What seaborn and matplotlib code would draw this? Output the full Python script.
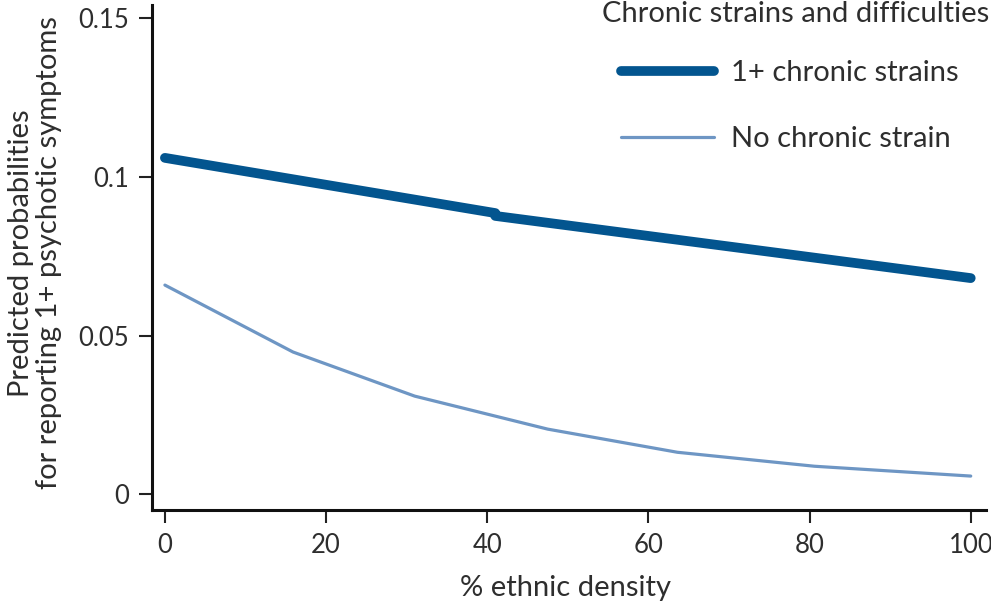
import pandas as pd
import matplotlib.pyplot as plt
import seaborn as sns

# values
strain_x = [0, 41, 41, 100]
strain_y = [0.1060, 0.0886, 0.0877, 0.0681]
none_x = [0, 15.9, 31, 47.5, 63.6, 80.6, 100]
none_y = [0.0659, 0.0448, 0.0309, 0.0205, 0.0132, 0.0088, 0.0057]
labels = ['1+ chronic strains', 'No chronic strain']
colors = ['#03558f', '#6e96c4']

df_strain = pd.DataFrame({'density': strain_x, 'prob': strain_y})
df_none = pd.DataFrame({'density': none_x, 'prob': none_y})

sns.set_style('ticks')
plt.rcParams['font.family'] = ['Lato', 'DejaVu Sans']
txt = '#2e2e2e'

fig = plt.figure(figsize=(9.91, 6.05), dpi=100)
ax = fig.add_axes([0.1534, 0.1570, 0.8416, 0.8348])

sns.lineplot(x='density', y='prob', data=df_strain, ax=ax, estimator=None, sort=False,
             color=colors[0], linewidth=7, solid_capstyle='round', label=labels[0])
sns.lineplot(x='density', y='prob', data=df_none, ax=ax, estimator=None, sort=False,
             color=colors[1], linewidth=2.3, solid_capstyle='round', label=labels[1])

ax.set_xlim(-1.6, 101.9)
ax.set_ylim(-0.005, 0.1542)
ax.set_xticks([0, 20, 40, 60, 80, 100])
ax.set_yticks([0, 0.05, 0.1, 0.15])
ax.set_yticklabels(['0', '0.05', '0.1', '0.15'])
ax.tick_params(axis='both', direction='out', length=9.5, width=1.5, colors='#222222',
               labelsize=18.5, labelcolor=txt, pad=7)
for s in ['top', 'right']:
    ax.spines[s].set_visible(False)
for s in ['left', 'bottom']:
    ax.spines[s].set_linewidth(2.2)
    ax.spines[s].set_color('#111111')

ax.set_xlabel('')
ax.set_ylabel('')
fig.text(565 / 991, 1 - 588 / 605, '% ethnic density', fontsize=21, color=txt,
         ha='center', va='center')
fig.text(35 / 991, 1 - 253 / 605,
         'Predicted probabilities\nfor reporting 1+ psychotic symptoms',
         fontsize=21, color=txt, ha='center', va='center', rotation=90,
         multialignment='center', linespacing=1.1)

# legend title drawn as its own text so the row gaps can differ
fig.text(989 / 991, 1 - 14 / 605, 'Chronic strains and difficulties', fontsize=21,
         color=txt, ha='right', va='center')
leg = ax.legend(loc='upper left', bbox_to_anchor=(0.538, 0.931), frameon=False,
                fontsize=21, handlelength=3.2, labelspacing=1.37,
                handletextpad=0.56, borderpad=0.2)
for t in leg.get_texts():
    t.set_color(txt)

fig.savefig('out.png', dpi=100)
